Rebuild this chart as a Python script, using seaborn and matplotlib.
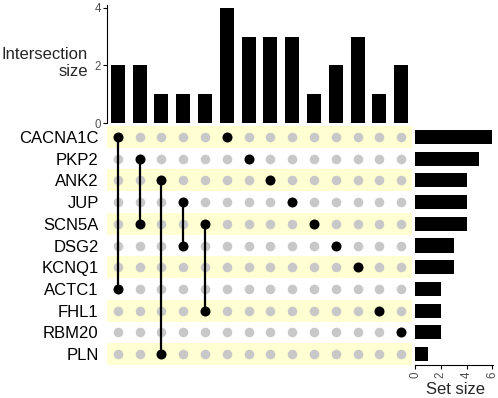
import matplotlib
matplotlib.use("Agg")
import matplotlib.pyplot as plt
import seaborn as sns
import pandas as pd
import numpy as np

sns.set_style("white")
plt.rcParams['font.family'] = ['Liberation Sans', 'DejaVu Sans']

sets = ["CACNA1C", "PKP2", "ANK2", "JUP", "SCN5A", "DSG2", "KCNQ1",
        "ACTC1", "FHL1", "RBM20", "PLN"]
set_sizes = [6, 5, 4, 4, 4, 3, 3, 2, 2, 2, 1]

intersections = [
    ["CACNA1C", "ACTC1"],
    ["PKP2", "SCN5A"],
    ["ANK2", "PLN"],
    ["JUP", "DSG2"],
    ["SCN5A", "FHL1"],
    ["CACNA1C"],
    ["PKP2"],
    ["ANK2"],
    ["JUP"],
    ["SCN5A"],
    ["DSG2"],
    ["KCNQ1"],
    ["FHL1"],
    ["RBM20"],
]
intersection_sizes = [2, 2, 1, 1, 1, 4, 3, 3, 3, 1, 2, 3, 1, 2]

W, H = 498, 398
fig = plt.figure(figsize=(W / 100, H / 100), dpi=100)

def add_ax(l, t, r, b):
    return fig.add_axes([l / W, 1 - b / H, (r - l) / W, (b - t) / H])

tick_color = "#4D4D4D"
label_fs = 12
tick_fs = 8.3
ncol = len(intersections)
nrow = len(sets)

# Top intersection-size bars
ax_top = add_ax(107, 5, 412, 123)
df_top = pd.DataFrame({"col": [str(i) for i in range(ncol)], "size": intersection_sizes})
sns.barplot(data=df_top, x="col", y="size", color="black", width=0.64,
            saturation=1, linewidth=0, ax=ax_top)
ax_top.set_xlim(-0.5, ncol - 0.5)
ax_top.set_ylim(0, 4.1)
ax_top.set_yticks([0, 2, 4])
ax_top.set_xticks([])
ax_top.set_xlabel("")
ax_top.set_ylabel("")
for s in ["top", "right", "bottom"]:
    ax_top.spines[s].set_visible(False)
ax_top.spines["left"].set_color("black")
ax_top.spines["left"].set_linewidth(0.8)
ax_top.tick_params(axis="y", left=True, length=3, width=0.8, colors="black",
                   labelcolor=tick_color, labelsize=tick_fs, pad=1.5)
fig.text(88 / W, 1 - 63 / H, "Intersection\nsize", ha="right", va="center",
         multialignment="right", fontsize=label_fs, linespacing=1.2)

# Matrix
ax_m = add_ax(107, 126, 412, 365)
ax_m.set_xlim(-0.5, ncol - 0.5)
ax_m.set_ylim(nrow - 0.5, -0.5)
for i in range(nrow):
    if i % 2 == 0:
        ax_m.axhspan(i - 0.5, i + 0.5, color="#FFFFD1", lw=0, zorder=0)
rows = []
for c, members in enumerate(intersections):
    for r, s in enumerate(sets):
        rows.append({"x": c, "y": r, "on": s in members})
dfm = pd.DataFrame(rows)
sns.scatterplot(data=dfm[~dfm["on"]], x="x", y="y", color="#C8C8C8", s=48,
                linewidth=0, ax=ax_m, zorder=2)
for c, members in enumerate(intersections):
    ys = [sets.index(m) for m in members]
    if len(ys) > 1:
        ax_m.plot([c, c], [min(ys), max(ys)], color="black", lw=1.6, zorder=3)
sns.scatterplot(data=dfm[dfm["on"]], x="x", y="y", color="black", s=52,
                linewidth=0, ax=ax_m, zorder=4)
ax_m.set_xlim(-0.5, ncol - 0.5)
ax_m.set_ylim(nrow - 0.5, -0.5)
ax_m.set_xticks([])
ax_m.set_yticks(range(nrow))
ax_m.set_yticklabels(sets, fontsize=label_fs, color="black")
ax_m.tick_params(axis="y", length=0, pad=6)
ax_m.set_xlabel("")
ax_m.set_ylabel("")
for s in ax_m.spines.values():
    s.set_visible(False)

# Set-size bars
ax_s = add_ax(415, 126, 493, 365)
df_s = pd.DataFrame({"set": sets, "size": set_sizes})
sns.barplot(data=df_s, y="set", x="size", color="black", width=0.65,
            saturation=1, linewidth=0, orient="h", ax=ax_s)
ax_s.set_ylim(nrow - 0.5, -0.5)
ax_s.set_xlim(0, 6.05)
ax_s.set_xticks([0, 2, 4, 6])
ax_s.set_yticks([])
ax_s.set_xlabel("")
ax_s.set_ylabel("")
for s in ["top", "right", "left"]:
    ax_s.spines[s].set_visible(False)
ax_s.spines["bottom"].set_color("black")
ax_s.spines["bottom"].set_linewidth(0.8)
ax_s.tick_params(axis="x", bottom=True, length=3, width=0.8, colors="black",
                 labelcolor=tick_color, labelsize=tick_fs, pad=1.5, labelrotation=90)
fig.text(455 / W, 1 - 389 / H, "Set size", ha="center", va="center", fontsize=label_fs)

fig.savefig("out.png", dpi=100)
